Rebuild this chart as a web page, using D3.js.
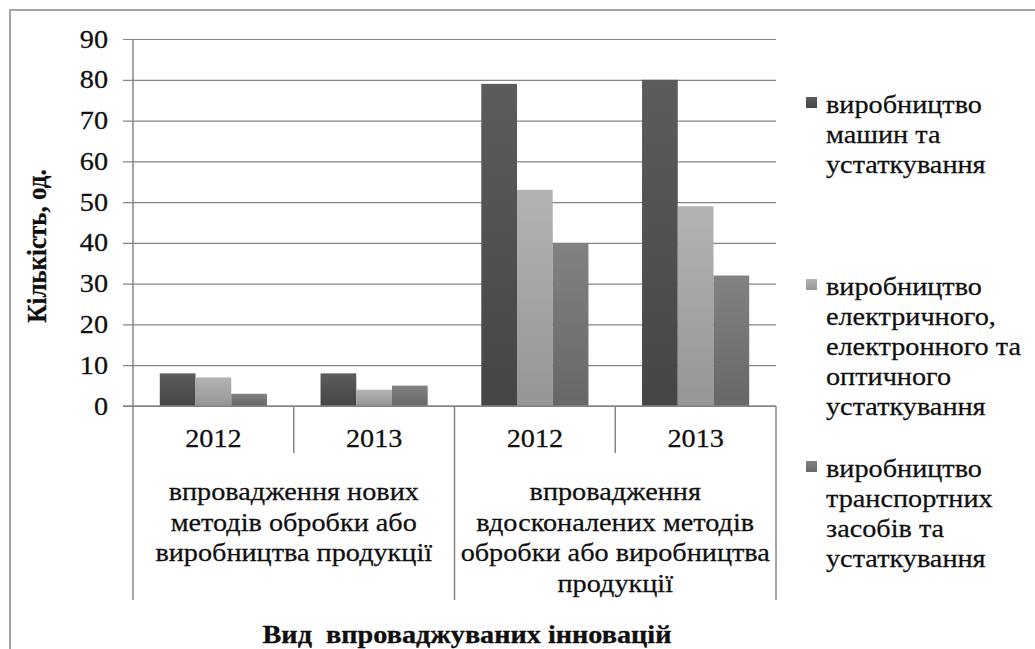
<!DOCTYPE html>
<html>
<head>
<meta charset="utf-8">
<script src="https://cdn.jsdelivr.net/npm/d3@7"></script>
<style>
  html, body { margin: 0; padding: 0; background: #fff; }
  svg { display: block; }
</style>
</head>
<body>
<svg id="chart" width="1035" height="649"></svg>
<script>
// ---- data ----
const categories = ["new-2012", "new-2013", "improved-2012", "improved-2013"];
const years = ["2012", "2013", "2012", "2013"];
const groupLabels = [
  ["впровадження нових", "методів обробки або", "виробництва продукції"],
  ["впровадження", "вдосконалених методів", "обробки або виробництва", "продукції"]
];
const groupOfCategory = [0, 0, 1, 1];

const machinery  = [8, 8, 79, 80];   // виробництво машин та устаткування
const electrical = [7, 4, 53, 49];   // електричного, електронного та оптичного устаткування
const transport  = [3, 5, 40, 32];   // транспортних засобів та устаткування

const seriesKeys = ["machinery", "electrical", "transport"];
const seriesValues = [machinery, electrical, transport];
const legendLabels = [
  ["виробництво", "машин та", "устаткування"],
  ["виробництво", "електричного,", "електронного та", "оптичного", "устаткування"],
  ["виробництво", "транспортних", "засобів та", "устаткування"]
];
const yTicks = [0, 10, 20, 30, 40, 50, 60, 70, 80, 90];
const yTitle = "Кількість, од.";
const xTitle = "Вид  впроваджуваних інновацій";

// ---- layout ----
const W = 1035, H = 649;
const plot = { left: 133, right: 776, top: 39, bottom: 406 };
const SX = 1.13;            // horizontal text stretch
const FONT = 25;
const FAMILY = "'Liberation Serif', 'Times New Roman', Tinos, serif";
const TEXT_COLOR = "#0f0f0f";
const gridColor = "#858585";

const svg = d3.select("#chart");

function styleText(sel, bold) {
  sel.style("font-family", FAMILY)
    .style("font-size", FONT + "px")
    .style("font-weight", bold ? "bold" : "normal")
    .style("fill", TEXT_COLOR)
    .style("stroke", TEXT_COLOR)
    .style("stroke-width", bold ? 0.3 : 0.25);
}

// gradients for bar fills
const fills = {
  machinery:  ["#5c5c5c", "#454545"],
  electrical: ["#b3b3b3", "#959595"],
  transport:  ["#828282", "#676767"]
};
const defs = svg.append("defs");
seriesKeys.forEach(k => {
  const g = defs.append("linearGradient").attr("id", "grad-" + k)
    .attr("x1", 0).attr("y1", 0).attr("x2", 0).attr("y2", 1);
  g.append("stop").attr("offset", "0%").attr("stop-color", fills[k][0]);
  g.append("stop").attr("offset", "100%").attr("stop-color", fills[k][1]);
});

// outer chart frame
svg.append("rect")
  .attr("x", 10).attr("y", 10)
  .attr("width", W + 20).attr("height", H + 20)
  .attr("fill", "#fff").attr("stroke", "#a3a3a3").attr("stroke-width", 2);

// ---- scales ----
const y = d3.scaleLinear().domain([0, 90]).range([plot.bottom, plot.top]);
const x0 = d3.scaleBand().domain(categories).range([plot.left, plot.right]);
const x1 = d3.scaleBand().domain(seriesKeys).range([0, x0.bandwidth()])
  .paddingInner(0).paddingOuter(0.75);

// move a text's anchor into a transform so it can be widened around it
function stretchText(sel) {
  sel.each(function () {
    const t = d3.select(this);
    const x = +t.attr("x") || 0;
    const yy = +t.attr("y") || 0;
    t.attr("x", 0).attr("y", 0)
      .attr("transform", `translate(${x},${yy}) scale(${SX},1)`);
  });
}

// ---- y axis with gridlines ----
const tickLen = plot.right - (plot.left - 10);
const yAxis = svg.append("g")
  .attr("transform", `translate(${plot.right},0)`)
  .call(d3.axisLeft(y).tickValues(yTicks).tickSize(tickLen).tickPadding(15));
yAxis.select(".domain").remove();
yAxis.selectAll(".tick line").attr("stroke", gridColor).attr("stroke-width", 1.2);
yAxis.selectAll(".tick text")
  .call(styleText, false)
  .call(stretchText);

// ---- bars ----
const barGroups = svg.append("g").selectAll("g")
  .data(categories)
  .join("g")
  .attr("transform", d => `translate(${x0(d)},0)`);

barGroups.selectAll("rect")
  .data((d, i) => seriesKeys.map((k, s) => ({ key: k, value: seriesValues[s][i] })))
  .join("rect")
  .attr("x", d => x1(d.key))
  .attr("width", x1.bandwidth())
  .attr("y", d => y(d.value))
  .attr("height", d => y(0) - y(d.value))
  .attr("fill", d => `url(#grad-${d.key})`);

// ---- axis lines ----
const axisG = svg.append("g").attr("stroke", gridColor).attr("stroke-width", 1.5);
axisG.append("line")
  .attr("x1", plot.left).attr("x2", plot.left)
  .attr("y1", y(90)).attr("y2", 600);
axisG.append("line")
  .attr("x1", plot.left - 10).attr("x2", plot.right)
  .attr("y1", y(0)).attr("y2", y(0));

// category separators: short between years, long between groups
categories.forEach((c, i) => {
  const xr = x0(c) + x0.bandwidth();
  const last = i === categories.length - 1 || groupOfCategory[i + 1] !== groupOfCategory[i];
  axisG.append("line")
    .attr("x1", xr).attr("x2", xr)
    .attr("y1", y(0)).attr("y2", last ? 600 : 453);
});

// ---- year labels ----
svg.append("g").selectAll("text")
  .data(categories)
  .join("text")
  .attr("x", d => x0(d) + x0.bandwidth() / 2)
  .attr("y", 447)
  .attr("text-anchor", "middle")
  .text((d, i) => years[i])
  .call(styleText, false)
  .call(stretchText);

// ---- group labels ----
groupLabels.forEach((lines, g) => {
  const cats = categories.filter((c, i) => groupOfCategory[i] === g);
  const cx = (x0(cats[0]) + x0(cats[cats.length - 1]) + x0.bandwidth()) / 2;
  svg.append("g").selectAll("text")
    .data(lines)
    .join("text")
    .attr("x", cx)
    .attr("y", (d, i) => 500 + i * 30.7)
    .attr("text-anchor", "middle")
    .text(d => d)
    .call(styleText, false)
    .call(stretchText);
});

// ---- axis titles ----
svg.append("text")
  .attr("transform", `translate(46,246) scale(${SX},1) rotate(-90)`)
  .attr("text-anchor", "middle")
  .text(yTitle)
  .call(styleText, true);

svg.append("text")
  .attr("x", 467).attr("y", 643)
  .attr("text-anchor", "middle")
  .style("white-space", "pre")
  .text(xTitle)
  .call(styleText, true)
  .call(stretchText);

// ---- legend ----
const legendX = 826;
const legendStarts = [113, 295, 477];
const lineStep = 30;
const legend = svg.append("g");
seriesKeys.forEach((k, s) => {
  const base = legendStarts[s];
  legend.append("rect")
    .attr("x", 806).attr("y", base - 16)
    .attr("width", 11).attr("height", 11)
    .attr("fill", `url(#grad-${k})`);
  legend.append("g").selectAll("text")
    .data(legendLabels[s])
    .join("text")
    .attr("x", legendX)
    .attr("y", (d, i) => base + i * lineStep)
    .text(d => d)
    .call(styleText, false)
    .call(stretchText);
});
</script>
</body>
</html>
